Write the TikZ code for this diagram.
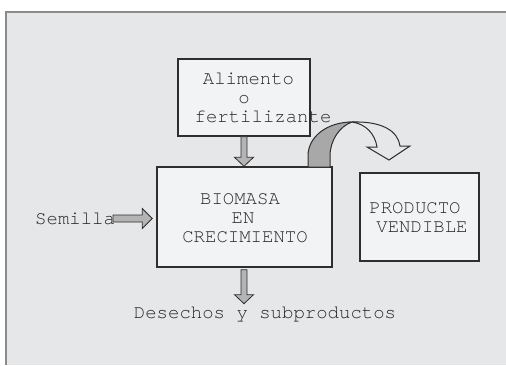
\documentclass[tikz,border=0pt]{standalone}
\usepackage{fontspec}
\IfFontExistsTF{TeX Gyre Cursor}{\setmonofont{TeX Gyre Cursor}}{\setmonofont{Liberation Mono}}
\usetikzlibrary{calc}
\definecolor{bgcol}{HTML}{E6E7E9}
\definecolor{boxfill}{HTML}{F2F3F5}
\definecolor{framecol}{HTML}{8C8C8C}
\definecolor{arrfill}{HTML}{B4B4B4}
\definecolor{bandfill}{HTML}{A8A8A8}
\definecolor{inkcol}{HTML}{2E2E2E}
\definecolor{txtcol}{HTML}{262626}
\newcommand\myvarrow[2]{\draw[barrow] ($(#1)+(-3,0)$) -- ($(#2)+(-3,-9)$) -- ($(#2)+(-9.5,-9)$) -- (#2) -- ($(#2)+(9.5,-9)$) -- ($(#2)+(3,-9)$) -- ($(#1)+(3,0)$) -- cycle;}
\newcommand\myharrow[2]{\draw[barrow] ($(#1)+(0,-3.5)$) -- ($(#2)+(-10,-3.5)$) -- ($(#2)+(-10,-10)$) -- (#2) -- ($(#2)+(-10,10)$) -- ($(#2)+(-10,3.5)$) -- ($(#1)+(0,3.5)$) -- cycle;}
\begin{document}
\begin{tikzpicture}[x=1pt,y=-1pt,
  box/.style={draw=inkcol, fill=boxfill, line width=1.4pt, inner sep=0pt},
  txt/.style={font=\ttfamily\fontsize{19}{19}\selectfont, text=txtcol, inner sep=0pt, anchor=base},
  barrow/.style={draw=inkcol, fill=arrfill, line width=0.8pt, line join=miter},
  band/.style={draw=inkcol, fill=bandfill, line width=1pt},
  curvarrow/.style={draw=inkcol, fill=bgcol, line width=1pt, line join=miter}]
\useasboundingbox (0,0) rectangle (506,365);
\fill[white] (0,0) rectangle (506,365);
\fill[bgcol] (6,12) rectangle (506,365);
\draw[framecol, line width=2.5pt] (6,365) -- (6,12) -- (506,12);
% boxes
\node[box, minimum width=132pt, minimum height=77pt] (alim) at (244,97.5) {};
\node[box, minimum width=175pt, minimum height=100pt] (bio) at (244.5,217) {};
\node[box, minimum width=119pt, minimum height=88pt] (prod) at (419.5,217) {};
% texts
\node[txt] (t1) at (248.5,84) {Alimento};
\node[txt] (t2) at (244,103) {o};
\node[txt] (t3) at (263,122) {fertilizante};
\node[txt] (b1) at (240,204) {BIOMASA};
\node[txt] (b2) at (243,223) {EN};
\node[txt] (b3) at (245,242) {CRECIMIENTO};
\node[txt] (p1) at (415,213) {PRODUCTO};
\node[txt] (p2) at (422,232.5) {VENDIBLE};
\node[txt, anchor=base west] (sem) at (35,224) {Semilla};
\node[txt] (des) at (265,318) {Desechos y subproductos};
% straight block arrows
\coordinate (a1s) at (alim.south);
\coordinate (a1t) at (alim.south |- bio.north);
\myvarrow{a1s}{a1t}
\coordinate (a2s) at ($(bio.south)+(-0.5,2)$);
\coordinate (a2t) at ($(bio.south)+(-0.5,36)$);
\myvarrow{a2s}{a2t}
\coordinate (a3s) at (113,218.5);
\coordinate (a3t) at ($(bio.west)+(-4,1.5)$);
\myharrow{a3s}{a3t}
% curved arrow
\coordinate (ctop) at (352,122);
\draw[band] (308,167) -- (308,156) .. controls (308,136) and (328,122) .. (ctop)
  .. controls (340,126) and (330,140) .. (330,156) -- (330,167) -- cycle;
\draw[curvarrow] (ctop) .. controls (382,121) and (398,131) .. (400,146)
  -- (410,146) -- (389,160) -- (367,147) -- (377,147)
  .. controls (375,134) and (366,124) .. (ctop) -- cycle;
\end{tikzpicture}
\end{document}
